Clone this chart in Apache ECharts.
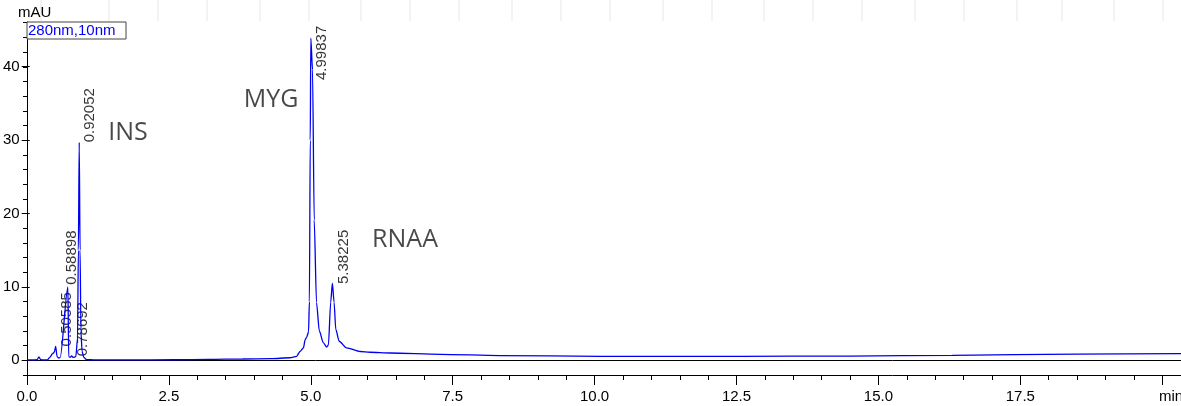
<!DOCTYPE html>
<html>
<head>
<meta charset="utf-8">
<script src="https://cdn.jsdelivr.net/npm/echarts@6/dist/echarts.min.js"></script>
<style>
html,body{margin:0;padding:0;background:#fff;}
#c{width:1181px;height:406px;}
</style>
</head>
<body>
<div id="c"></div>
<script>
// ---- data ----
const timeMin = [
  0.00, 0.10, 0.18, 0.21, 0.24, 0.30, 0.36, 0.40, 0.45, 0.48, 0.505, 0.53, 0.56,
  0.585, 0.72, 0.735, 0.76, 0.787, 0.81, 0.86, 0.89, 0.905, 0.92, 0.935, 0.95, 0.97, 1.00, 1.05, 1.20,
  1.80, 2.60, 3.20, 3.80, 4.30, 4.63, 4.75, 4.81, 4.87, 4.90, 4.93, 4.96, 4.975, 4.99, 5.00, 5.03, 5.06, 5.10,
  5.15, 5.22, 5.28, 5.31, 5.35, 5.38, 5.41, 5.44, 5.50, 5.63, 5.87, 6.04, 6.40, 7.28, 8.33,
  10.10, 12.56, 14.50, 16.30, 18.50, 20.33
];
const absorbance = [
  0.05, 0.05, 0.10, 0.45, 0.10, 0.05, 0.05, 0.40, 0.90, 1.10, 1.90, 0.50, 0.30,
  0.40, 10.0, 0.50, 0.40, 0.60, 0.40, 0.50, 3.0, 15.0, 29.7, 15.0, 4.0, 1.2, 0.40, 0.10, 0.05,
  0.05, 0.08, 0.12, 0.18, 0.22, 0.35, 0.55, 1.2, 1.7, 2.8, 3.2, 3.9, 8.0, 30.0, 43.9, 39.6, 19.1, 7.9,
  4.0, 2.4, 1.8, 2.1, 7.9, 10.5, 7.9, 4.2, 2.6, 1.7, 1.2, 1.1, 1.0, 0.82, 0.64,
  0.55, 0.55, 0.58, 0.68, 0.85, 0.90
];
const peakTimes = [0.50585, 0.58898, 0.78692, 0.92052, 4.99837, 5.38225];
const peakLabelHeights = [1.9, 10.3, 0.55, 29.7, 38.2, 10.4];
const compoundNames = ['INS', 'MYG', 'RNAA'];
const compoundTimes = [1.43, 3.82, 6.08];
const compoundHeights = [31.0, 35.5, 16.4];
const yUnit = 'mAU';
const signalName = '280nm,10nm';
const xUnit = 'min';

const FONT = 'Liberation Sans, Arial, sans-serif';
const chart = echarts.init(document.getElementById('c'), null, {renderer: 'canvas'});

const lineData = timeMin.map((t, i) => [t, absorbance[i]]);
const peakData = peakTimes.map((t, i) => [t, peakLabelHeights[i], t.toFixed(5)]);
const nameData = compoundNames.map((n, i) => [compoundTimes[i], compoundHeights[i], n]);

// faint background lines of the screenshot (outside plot)
const bgLines = [];
[41,109,158,207,260,309,361,410,459,512,561,610,663,712,764,813,862,915,964,1017,1062,1114,1163].forEach(x => {
  bgLines.push({type:'line', shape:{x1:x, y1:0, x2:x, y2:21}, style:{stroke:'#f3f3f3', lineWidth:2}, z:-10});
});

const option = {
  animation: false,
  backgroundColor: '#fff',
  grid: [
    {left: 27, top: 22, right: 0, bottom: 31},
    {left: 27, top: 66.7, right: 0, bottom: 45.7},
    {left: 27, top: 22, right: 18.8, bottom: 31}
  ],
  xAxis: [
    {gridIndex: 0, type: 'value', min: 0, max: 20.33, interval: 0.5,
     axisLine: {show: true, onZero: false, lineStyle: {color: '#000', width: 1}},
     axisTick: {show: true, length: 5, lineStyle: {color: '#000'}},
     axisLabel: {show: false}, splitLine: {show: false}},
    {gridIndex: 0, type: 'value', position: 'top', min: 0, max: 20.33,
     axisLine: {show: true, lineStyle: {color: '#000', width: 1}},
     axisTick: {show: false}, axisLabel: {show: false}, splitLine: {show: false}},
    {gridIndex: 1, type: 'value', min: 0, max: 20, show: false},
    {gridIndex: 2, type: 'value', min: 0, max: 20, interval: 2.5,
     axisLine: {show: false, onZero: false},
     axisTick: {show: true, length: 10, lineStyle: {color: '#000'}},
     axisLabel: {show: true, margin: 14, color: '#000', fontFamily: FONT, fontSize: 15,
       formatter: v => (v === 20 ? '' : v.toFixed(1))},
     splitLine: {show: false}}
  ],
  yAxis: [
    {gridIndex: 0, type: 'value', min: -2, max: 46.1, interval: 2,
     axisLine: {show: true, onZero: false, lineStyle: {color: '#000', width: 1}},
     axisTick: {show: true, length: 4, lineStyle: {color: '#000'}},
     axisLabel: {show: false}, splitLine: {show: false}},
    {gridIndex: 1, type: 'value', min: 0, max: 40, interval: 10,
     axisLine: {show: false, onZero: false},
     axisTick: {show: true, length: 8, lineStyle: {color: '#000'}},
     axisLabel: {show: true, margin: 10, color: '#000', fontFamily: FONT, fontSize: 15},
     splitLine: {show: false}},
    {gridIndex: 2, type: 'value', min: 0, max: 40, show: false}
  ],
  series: [
    {type: 'line', xAxisIndex: 0, yAxisIndex: 0, data: lineData, showSymbol: false,
     smooth: 0.25, smoothMonotone: 'x',
     lineStyle: {color: '#0000f0', width: 1.3}, silent: true, z: 3},
    {type: 'scatter', xAxisIndex: 0, yAxisIndex: 0, data: peakData, symbolSize: 0, silent: true,
     label: {show: true, formatter: p => p.data[2], rotate: 90, position: [11, 0],
       align: 'left', verticalAlign: 'middle', color: '#000', fontFamily: FONT, fontSize: 15}},
    {type: 'scatter', xAxisIndex: 0, yAxisIndex: 0, data: nameData, symbolSize: 0, silent: true,
     label: {show: true, formatter: p => p.data[2], position: [0, 0],
       align: 'left', verticalAlign: 'middle', color: '#1a1a1a', fontFamily: 'Open Sans', fontSize: 25}}
  ],
  graphic: bgLines.concat([
    {type: 'text', left: 18, top: 5, style: {text: yUnit, fill: '#000', font: '15px ' + FONT}},
    {type: 'text', left: 1159, top: 389, style: {text: xUnit, fill: '#000', font: '15px ' + FONT}},
    {type: 'rect', shape: {x: 27, y: 22, width: 99, height: 17}, style: {fill: '#fff', stroke: '#444', lineWidth: 1}, z: 20},
    {type: 'text', x: 28, y: 23, style: {text: signalName, fill: '#0000ff', font: '15px ' + FONT}, z: 21}
  ])
};
chart.setOption(option);
</script>
</body>
</html>
